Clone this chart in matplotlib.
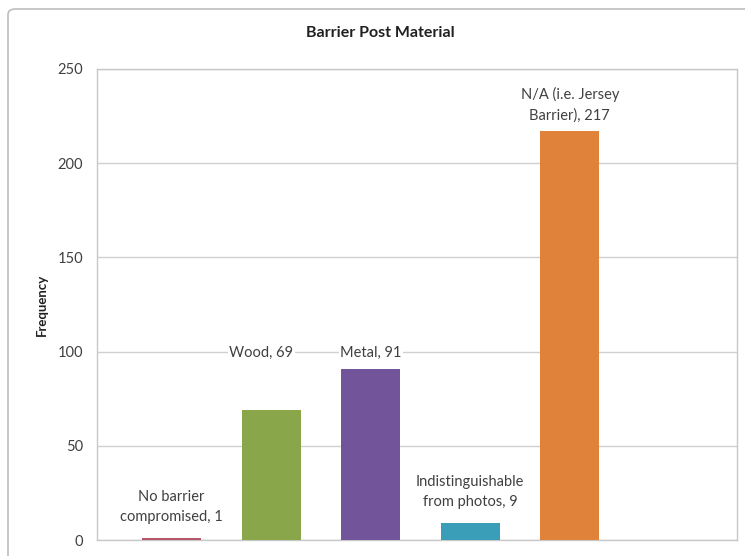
import matplotlib.pyplot as plt
from matplotlib.patches import FancyBboxPatch

categories = ["No barrier\ncompromised", "Wood", "Metal",
              "Indistinguishable\nfrom photos", "N/A (i.e. Jersey\nBarrier)"]
label_text = ["No barrier\ncompromised, 1", "Wood, 69", "Metal, 91",
              "Indistinguishable\nfrom photos, 9", "N/A (i.e. Jersey\nBarrier), 217"]
values = [1, 69, 91, 9, 217]
colors = ["#B5566A", "#8AA64A", "#71549A", "#3A9EB8", "#E0823A"]
yticks = [0, 50, 100, 150, 200, 250]
# label offsets in points (dx, dy) from the top centre of each bar
label_offsets = [(0, 10), (-7, 36), (0, 6), (0, 10), (0, 6)]

plt.rcParams['font.family'] = ['Lato', 'DejaVu Sans']

fig = plt.figure(figsize=(7.45, 5.56), dpi=100)
fig.patch.set_facecolor("white")

# outer chart frame
frame = FancyBboxPatch((8 / 745, -0.05), 1.2, 1.0 - 9 / 556 + 0.05,
                       boxstyle="round,pad=0,rounding_size=0.01",
                       transform=fig.transFigure, fill=False,
                       edgecolor="#BDBDBD", linewidth=1.2)
fig.patches.append(frame)

ax = fig.add_axes([97 / 745, 1 - 540 / 556, (737 - 97) / 745, (540 - 69) / 556])
x = list(range(len(values)))
ax.bar(x, values, width=0.59, color=colors, zorder=3)

ax.set_ylim(0, 250)
ax.set_xlim(-0.75, 5.68)
ax.set_yticks(yticks)
ax.set_yticklabels([str(t) for t in yticks], fontsize=10.5, color="#404040")
ax.set_xticks([])
ax.tick_params(axis="y", length=0, pad=10)
ax.yaxis.grid(True, color="#D0D0D0", linewidth=1.0, zorder=0)
for s in ax.spines.values():
    s.set_color("#C8C8C8")
    s.set_linewidth(1.0)

for xi, v, t, (dx, dy) in zip(x, values, label_text, label_offsets):
    ax.annotate(t, (xi, v), xytext=(dx, dy), textcoords="offset points",
                ha="center", va="bottom", fontsize=10.5, color="#404040",
                linespacing=1.55, zorder=4,
                bbox=dict(facecolor="white", edgecolor="none", pad=1))

ax.set_ylabel("Frequency", fontsize=9.5, fontweight="bold", color="#202020")
ax.yaxis.set_label_coords(-0.077, 0.5)
fig.text(380 / 745, 1 - 33 / 556, "Barrier Post Material", ha="center", va="center",
         fontsize=11.5, fontweight="bold", color="#202020")

fig.savefig("out.png", dpi=100)
